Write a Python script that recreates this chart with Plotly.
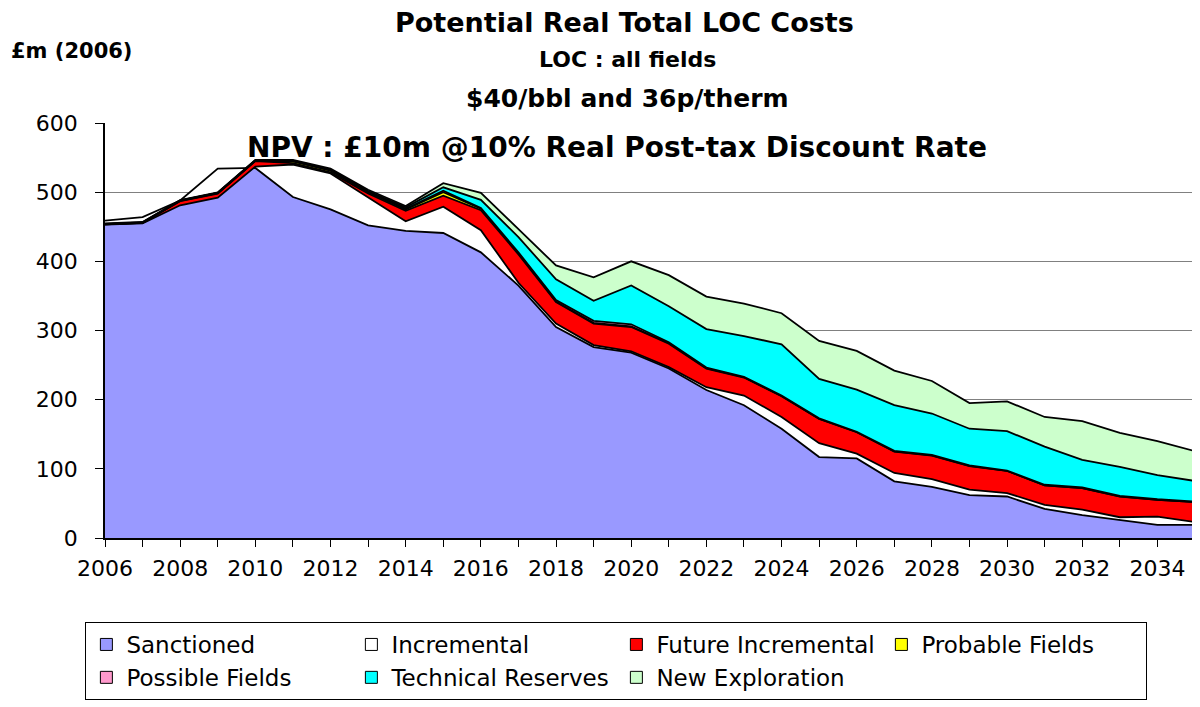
import plotly.graph_objects as go

# LOC cost layers, £m (2006 money), one value per year 2006-2035
years = list(range(2006, 2036))

sanctioned = [459, 464, 488, 534, 535, 493, 475, 452, 444, 441,
              413, 365, 305, 276, 268, 245, 214, 192, 158, 117,
              115, 82, 74, 62, 60, 42, 33, 26, 19, 19]
incremental = [-6, -9, -7, -42, 2, 47, 52, 40, 14, 38,
               32, 4, 5, 3, 2, 2, 4, 14, 17, 20,
               7, 12, 11, 8, 5, 6, 8, 4, 12, 4]
future_incremental = [0.3, 0.5, 6, 6, 8, 2, 1.5, 6, 15, 16,
                      29, 41, 31, 31, 35, 34, 27, 26, 30, 35,
                      31, 31, 34, 34, 32, 28, 31, 30, 24, 29]
probable_fields = [0.3, 0.3, 0.5, 0.5, 0.5, 2.5, 2.5, 2, 2, 5,
                   2, 2, 1, 1, 1, 1, 0.5, 0.5, 0.5, 0.5,
                   0.3, 0.3, 0.3, 0.3, 0.2, 0.2, 0.2, 0.2, 0.2, 0.2]
possible_fields = [0.3, 0.3, 0.3, 0.3, 0.3, 0.5, 0.5, 0.5, 1, 2,
                   1, 1, 2, 3, 3, 1, 1, 0.5, 0.5, 0.5,
                   0.3, 0.7, 0.7, 0.7, 0.3, 0.8, 0.8, 0.8, 0.8, 0.3]
technical_reserves = [0.3, 0.3, 0.3, 0.3, 0.3, 0.5, 1, 1, 2, 5,
                      12, 22, 30, 29, 56, 52, 55.5, 59, 74, 57,
                      61, 66, 60, 53, 57, 55, 40, 42, 35, 30]
new_exploration = [0.5, 0.5, 0.5, 0.5, 0.5, 1, 1.5, 2, 2, 6,
                   10, 12, 20, 34, 35, 45, 47, 47, 45, 55,
                   56, 50, 47, 37, 43, 43, 56, 49, 49, 43]

series = [
    ('Sanctioned', sanctioned, '#9999FF'),
    ('Incremental', incremental, '#FFFFFF'),
    ('Future Incremental', future_incremental, '#FF0000'),
    ('Probable Fields', probable_fields, '#FFFF00'),
    ('Possible Fields', possible_fields, '#FF99CC'),
    ('Technical Reserves', technical_reserves, '#00FFFF'),
    ('New Exploration', new_exploration, '#CCFFCC'),
]

FONT = 'DejaVu Sans'

fig = go.Figure()

# stacked areas, black outlines like the Excel original
for name, vals, col in series:
    fig.add_trace(go.Scatter(
        x=years, y=vals, name=name,
        stackgroup='loc', mode='lines',
        line=dict(color='black', width=1.8),
        fillcolor=col, showlegend=False,
        hoverinfo='x+y+name'
    ))

# closing edge of the stacked area at the last year
last_total = sum(vals[-1] for _, vals, _ in series)
fig.add_trace(go.Scatter(
    x=[years[-1], years[-1]], y=[0, last_total], mode='lines',
    line=dict(color='black', width=1.8), showlegend=False, hoverinfo='skip'
))

# small square legend keys
for name, vals, col in series:
    fig.add_trace(go.Scatter(
        x=[None], y=[None], name=name, mode='markers',
        marker=dict(symbol='square', size=12, color=col,
                    line=dict(color='black', width=1))
    ))

# titles
bold = dict(family=FONT, color='black')
titles = [
    ('<b>Potential Real Total LOC Costs</b>', 0.477, 1.243, 27),
    ('<b>LOC : all fields</b>', 0.479, 1.152, 22),
    ('<b>$40/bbl and 36p/therm</b>', 0.479, 1.058, 25),
    ('<b>NPV : £10m @10% Real Post-tax Discount Rate</b>', 0.470, 0.942, 28),
]
for txt, x, y, size in titles:
    fig.add_annotation(text=txt, xref='paper', yref='paper', x=x, y=y,
                       xanchor='center', yanchor='middle', showarrow=False,
                       font=dict(size=size, **bold))
fig.add_annotation(text='<b>£m (2006)</b>', xref='paper', yref='paper',
                   x=-0.088, y=1.1735, xanchor='left', yanchor='middle',
                   showarrow=False, font=dict(size=21, **bold))

# page body has an 8px margin, so the figure is 8px smaller than the window
fig.update_layout(
    width=1192, height=699,
    margin=dict(l=97, r=5, t=115, b=169),
    paper_bgcolor='white', plot_bgcolor='white',
    font=dict(family=FONT, size=22, color='black'),
    xaxis=dict(
        range=[2006, 2035],
        tickmode='array', tickvals=years,
        ticktext=[str(y) if y % 2 == 0 else '' for y in years],
        ticks='outside', ticklen=7, tickcolor='black',
        showline=True, linecolor='black', linewidth=2,
        showgrid=False, zeroline=False,
        ticklabelstandoff=3,
        tickfont=dict(size=22)
    ),
    yaxis=dict(
        range=[0, 600], dtick=100,
        ticks='outside', ticklen=8, tickcolor='black',
        showline=True, linecolor='black', linewidth=1.5,
        showgrid=True, gridcolor='#808080', gridwidth=1,
        zeroline=False, ticklabelstandoff=13,
        tickfont=dict(size=22)
    ),
    legend=dict(
        orientation='h', x=-0.018, xanchor='left', y=-0.2024, yanchor='top',
        bordercolor='black', borderwidth=1, bgcolor='white',
        entrywidth=220, entrywidthmode='pixels',
        font=dict(family=FONT, size=23, color='black'),
        traceorder='normal'
    ),
    hovermode='closest'
)

fig.write_html('out.html')
